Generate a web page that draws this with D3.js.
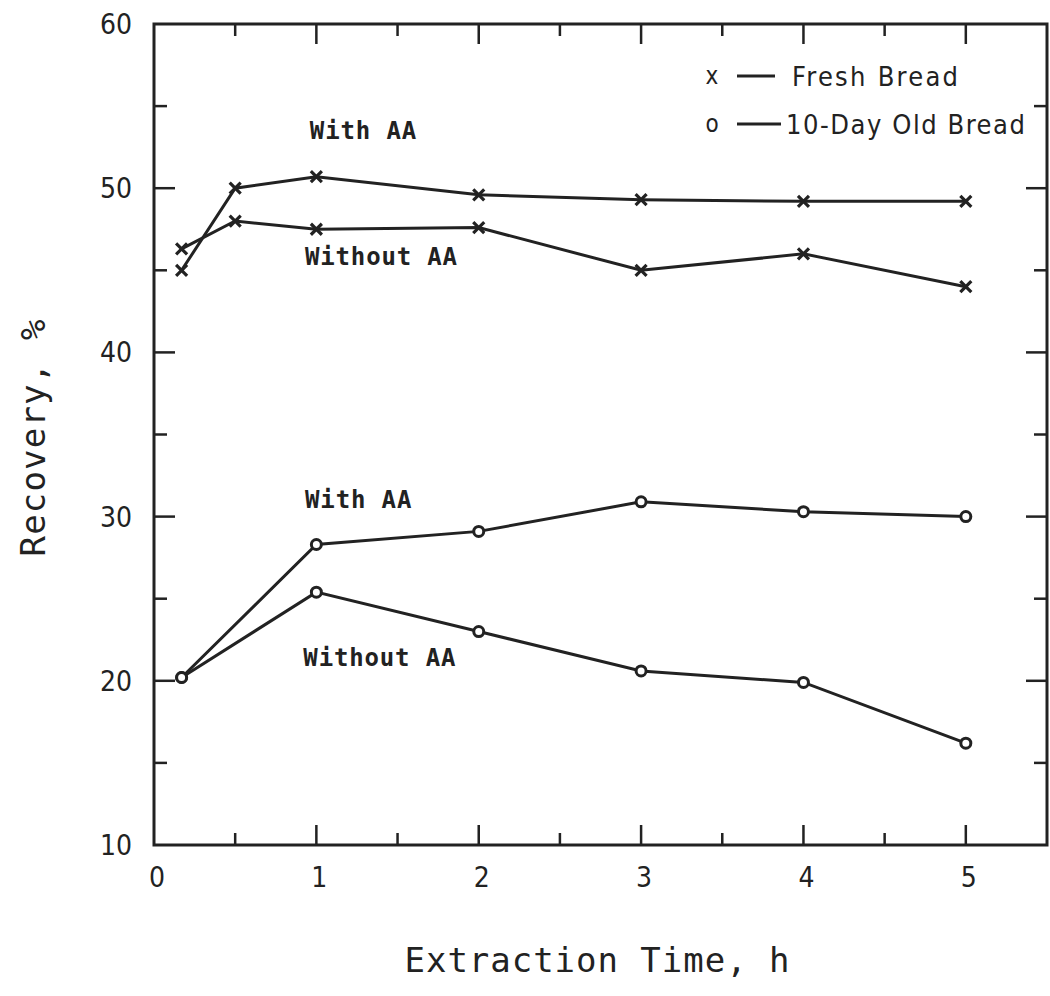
<!DOCTYPE html>
<html>
<head>
<meta charset="utf-8">
<script src="https://cdn.jsdelivr.net/npm/d3@7"></script>
<style>
  body { margin: 0; background: #fff; }
  svg text { fill: #222; }
</style>
</head>
<body>
<svg id="chart" width="1050" height="996"></svg>
<script>
// extraction times (h)
const times = [0.17, 0.5, 1, 2, 3, 4, 5];
const timesOld = [0.17, 1, 2, 3, 4, 5];

// recovery %
const freshWith = [45.0, 50.0, 50.7, 49.6, 49.3, 49.2, 49.2];
const freshWithout = [46.3, 48.0, 47.5, 47.6, 45.0, 46.0, 44.0];
const oldWith = [20.2, 28.3, 29.1, 30.9, 30.3, 30.0];
const oldWithout = [20.2, 25.4, 23.0, 20.6, 19.9, 16.2];

const xTicks = [0, 1, 2, 3, 4, 5];
const yTicks = [10, 20, 30, 40, 50, 60];

const ink = "#222";
const svg = d3.select("#chart");
const margin = {left: 154, right: 3, top: 24, bottom: 151};
const W = 1050, H = 996;

const x = d3.scaleLinear().domain([0, 5.5]).range([margin.left, W - margin.right]);
const y = d3.scaleLinear().domain([10, 60]).range([H - margin.bottom, margin.top]);

// frame
svg.append("rect")
  .attr("x", x(0)).attr("y", y(60))
  .attr("width", x(5.5) - x(0)).attr("height", y(10) - y(60))
  .attr("fill", "none").attr("stroke", ink).attr("stroke-width", 3);

// ticks, inward: long at labelled values, short at halves
const xt = d3.range(0.5, 5.5, 0.5);
const g = svg.append("g").attr("stroke", ink).attr("stroke-width", 2.5);
xt.forEach(t => {
  const len = Number.isInteger(t) ? 20 : 12;
  g.append("line").attr("x1", x(t)).attr("x2", x(t)).attr("y1", y(10)).attr("y2", y(10) - len);
  g.append("line").attr("x1", x(t)).attr("x2", x(t)).attr("y1", y(60)).attr("y2", y(60) + len);
});
const yt = d3.range(15, 60, 5);
yt.forEach(t => {
  const len = t % 10 === 0 ? 21 : 13;
  g.append("line").attr("x1", x(0)).attr("x2", x(0) + len).attr("y1", y(t)).attr("y2", y(t));
  g.append("line").attr("x1", x(5.5)).attr("x2", x(5.5) - len).attr("y1", y(t)).attr("y2", y(t));
});

const tickFont = "'DejaVu Sans Condensed', 'DejaVu Sans', sans-serif";
svg.append("g").selectAll("text").data(xTicks).join("text")
  .attr("x", d => x(d) + 3).attr("y", y(10) + 42)
  .attr("text-anchor", "middle")
  .style("font-family", tickFont).style("font-size", "28px").style("font-stretch", "condensed")
  .text(d => d);
svg.append("g").selectAll("text").data(yTicks).join("text")
  .attr("x", x(0) - 22).attr("y", d => y(d) + 10)
  .attr("text-anchor", "end")
  .style("font-family", tickFont).style("font-size", "28px").style("font-stretch", "condensed")
  .text(d => d);

// axis titles
const titleFont = "'DejaVu Sans Mono', monospace";
svg.append("text")
  .attr("x", 597).attr("y", 972)
  .attr("text-anchor", "middle")
  .attr("textLength", 385)
  .style("font-family", titleFont).style("font-size", "34px")
  .text("Extraction Time, h");
svg.append("text")
  .attr("transform", "translate(45,438) rotate(-90)")
  .attr("text-anchor", "middle")
  .attr("textLength", 237)
  .style("font-family", titleFont).style("font-size", "34px")
  .text("Recovery, %");

const line = d3.line().x(d => x(d[0])).y(d => y(d[1]));

function drawSeries(xs, ys, mark) {
  const pts = xs.map((t, i) => [t, ys[i]]);
  svg.append("path").datum(pts).attr("d", line)
    .attr("fill", "none").attr("stroke", ink).attr("stroke-width", 3);
  const mg = svg.append("g");
  pts.forEach(p => {
    const cx = x(p[0]), cy = y(p[1]);
    if (mark === "x") {
      const s = 5.5;
      mg.append("path")
        .attr("d", `M${cx - s},${cy - s}L${cx + s},${cy + s}M${cx - s},${cy + s}L${cx + s},${cy - s}`)
        .attr("stroke", ink).attr("stroke-width", 3.2);
    } else {
      mg.append("circle").attr("cx", cx).attr("cy", cy).attr("r", 5)
        .attr("fill", "#fff").attr("stroke", ink).attr("stroke-width", 3);
    }
  });
}

drawSeries(times, freshWith, "x");
drawSeries(times, freshWithout, "x");
drawSeries(timesOld, oldWith, "o");
drawSeries(timesOld, oldWithout, "o");

// curve annotations
const noteFont = "'DejaVu Sans Mono', monospace";
const notes = [
  {t: 0.96, v: 53.0, s: "With AA"},
  {t: 0.93, v: 45.3, s: "Without AA"},
  {t: 0.93, v: 30.5, s: "With AA"},
  {t: 0.92, v: 20.9, s: "Without AA"}
];
svg.append("g").selectAll("text").data(notes).join("text")
  .attr("x", d => x(d.t)).attr("y", d => y(d.v))
  .style("font-family", noteFont).style("font-size", "24px").style("font-weight", "bold")
  .attr("textLength", d => d.s.length * 15.2)
  .text(d => d.s);

// legend
const lg = svg.append("g");
const legendRows = [{m: "x", s: "Fresh Bread", y: 76, l1: 737, l2: 775, tx: 792, w: 166},
                    {m: "o", s: "10-Day Old Bread", y: 124, l1: 737, l2: 781, tx: 786, w: 239}];
legendRows.forEach(r => {
  lg.append("text").attr("x", 712).attr("y", r.y + 8).attr("text-anchor", "middle")
    .style("font-family", tickFont).style("font-size", "24px").text(r.m);
  lg.append("line").attr("x1", r.l1).attr("x2", r.l2).attr("y1", r.y).attr("y2", r.y)
    .attr("stroke", ink).attr("stroke-width", 3);
  lg.append("text").attr("x", r.tx).attr("y", r.y + 10)
    .attr("textLength", r.w)
    .style("font-family", tickFont).style("font-size", "27px").style("font-stretch", "condensed")
    .text(r.s);
});
</script>
</body>
</html>
